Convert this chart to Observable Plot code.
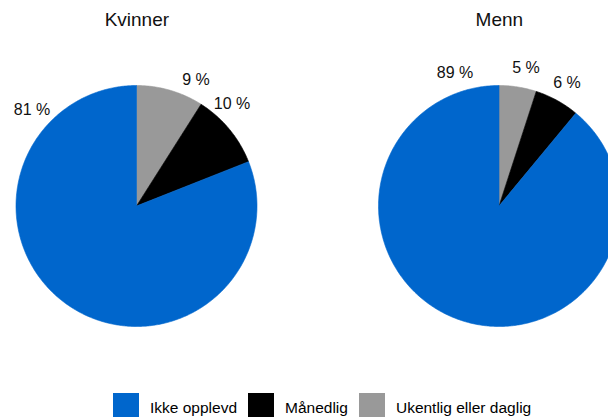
<!DOCTYPE html>
<html>
<head>
<meta charset="utf-8">
<script src="https://cdn.jsdelivr.net/npm/d3@7"></script>
<script src="https://cdn.jsdelivr.net/npm/@observablehq/plot@0.6"></script>
<style>
  html, body { margin: 0; padding: 0; background: #fff; }
  body { width: 608px; height: 417px; overflow: hidden; font-family: "Liberation Sans", Arial, sans-serif; }
  #legend { position: relative; height: 32px; display: flex; align-items: flex-start; margin-top: 8px; padding-left: 113px; gap: 11px; }
  .sw { width: 26px; height: 26px; flex: none; }
  .lt { font-size: 15.5px; line-height: 26px; position: relative; top: 2px; color: #000; white-space: nowrap; }
</style>
</head>
<body>
<div id="chart"></div>
<div id="legend"></div>
<script>
// ---- data ----
const groups = ["Kvinner", "Menn"];
const categories = ["Ukentlig eller daglig", "Månedlig", "Ikke opplevd"]; // clockwise from top
const legendOrder = ["Ikke opplevd", "Månedlig", "Ukentlig eller daglig"];
const colors = ["#999999", "#000000", "#0066CC"];
const kvinner = [9, 10, 81];
const menn = [5, 6, 89];

// ---- layout (radius units) ----
const W = 608, H = 385;
const R = 120.5;          // px per unit
const cxPx = 136, cyPx = 205.5;
const groupOffset = {Kvinner: 0, Menn: 362.5 / R};
const labelPos = {
  Kvinner: [[0.494, 1.046], [0.793, 0.846], [-0.867, 0.797]],
  Menn: [[0.224, 1.145], [0.564, 1.025], [-0.365, 1.108]]
};
const titleY = (cyPx - 19) / R;

const valuesBy = {Kvinner: kvinner, Menn: menn};
const pie = d3.pie().sort(null).value(d => d);

const polys = [];
const labels = [];
for (const g of groups) {
  const ox = groupOffset[g];
  const arcs = pie(valuesBy[g]);
  arcs.forEach((a, i) => {
    const id = g + "-" + i;
    polys.push({id, cat: categories[i], x: ox, y: 0});
    const n = Math.max(2, Math.ceil((a.endAngle - a.startAngle) / 0.01));
    for (let k = 0; k <= n; k++) {
      const t = a.startAngle + (a.endAngle - a.startAngle) * k / n;
      polys.push({id, cat: categories[i], x: ox + Math.sin(t), y: Math.cos(t)});
    }
    polys.push({id, cat: categories[i], x: ox, y: 0});
    const [lx, ly] = labelPos[g][i];
    labels.push({x: ox + lx, y: ly, text: valuesBy[g][i] + " %"});
  });
}
const titles = groups.map(g => ({x: groupOffset[g] + 0.003, y: titleY, text: g}));

const chart = Plot.plot({
  width: W, height: H,
  marginTop: 0, marginRight: 0, marginBottom: 0, marginLeft: 0,
  x: {domain: [-cxPx / R, (W - cxPx) / R], range: [0, W], axis: null},
  y: {domain: [-(H - cyPx) / R, cyPx / R], range: [H, 0], axis: null},
  color: {domain: categories, range: colors},
  style: {fontFamily: "'Liberation Sans', Arial, sans-serif", background: "#fff", overflow: "hidden"},
  marks: [
    Plot.line(polys, {x: "x", y: "y", z: "id", fill: "cat", stroke: "cat", strokeWidth: 0.6, curve: "linear"}),
    Plot.text(labels, {x: "x", y: "y", text: "text", fontSize: 16, fill: "#111"}),
    Plot.text(titles, {x: "x", y: "y", text: "text", fontSize: 19, fill: "#111"})
  ]
});
document.getElementById("chart").appendChild(chart);

const colorOf = Object.fromEntries(categories.map((c, i) => [c, colors[i]]));
const legend = document.getElementById("legend");
for (const c of legendOrder) {
  const sw = document.createElement("div");
  sw.className = "sw";
  sw.style.background = colorOf[c];
  const lt = document.createElement("div");
  lt.className = "lt";
  lt.textContent = c;
  legend.appendChild(sw);
  legend.appendChild(lt);
}
</script>
</body>
</html>
